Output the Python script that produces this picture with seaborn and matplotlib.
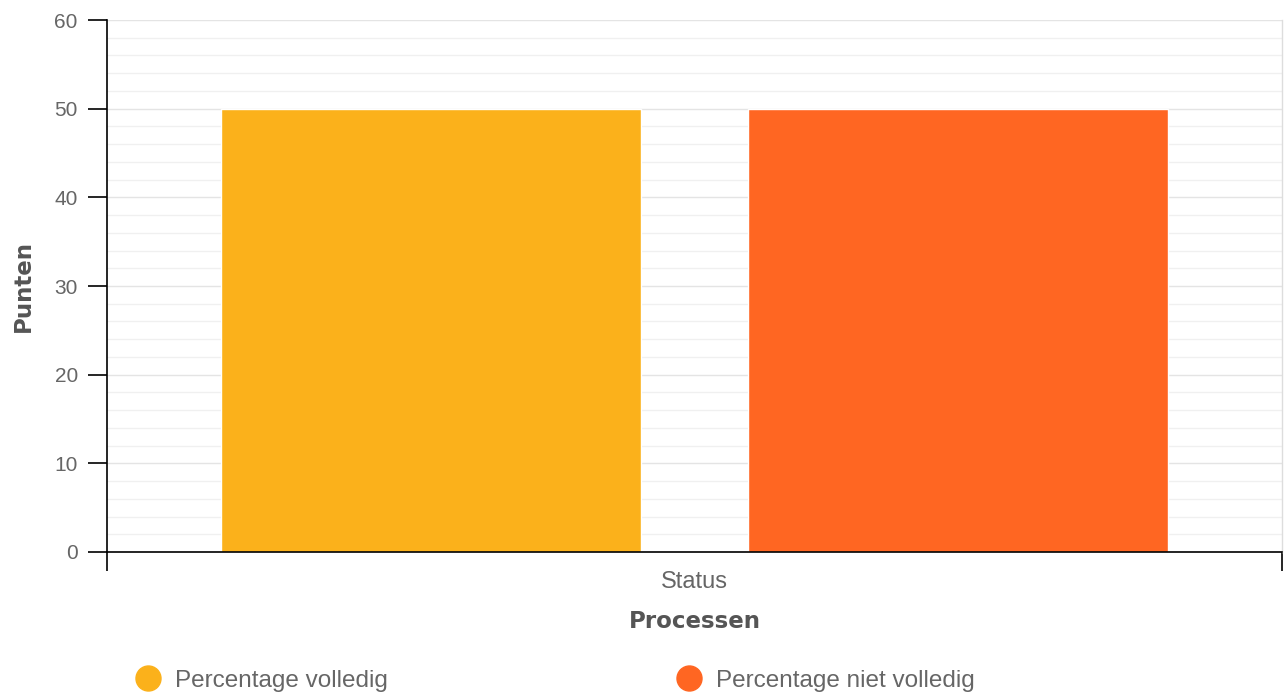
import numpy as np
import pandas as pd
import matplotlib
matplotlib.use("Agg")
import matplotlib.pyplot as plt
from matplotlib.lines import Line2D
from matplotlib.ticker import MultipleLocator
import seaborn as sns

categories = ["Status"]
series = ["Percentage volledig", "Percentage niet volledig"]
values = [50, 50]
colors = ["#FBB11B", "#FF6622"]

df = pd.DataFrame({
    "Processen": categories * len(series),
    "Serie": series,
    "Punten": values,
})

sns.set_style("white")
plt.rcParams["font.family"] = ["Liberation Sans", "DejaVu Sans"]

fig = plt.figure(figsize=(12.87, 6.98), dpi=100)
ax = fig.add_axes([0.0831, 0.2092, 0.9130, 0.7621])

sns.barplot(data=df, x="Processen", y="Punten", hue="Serie",
            palette=dict(zip(series, colors)), width=0.897, gap=0.203,
            saturation=1, ax=ax, legend=False)

ax.set_xlim(-0.5, 0.5)
ax.set_ylim(0, 60)
ax.yaxis.set_major_locator(MultipleLocator(10))
ax.yaxis.set_minor_locator(MultipleLocator(2))
ax.grid(which="major", axis="y", color="#e4e4e4", linewidth=1)
ax.grid(which="minor", axis="y", color="#f0f0f0", linewidth=1)
ax.set_axisbelow(True)

for s in ["left", "bottom"]:
    ax.spines[s].set_color("black")
    ax.spines[s].set_linewidth(1.2)
ax.spines["top"].set_visible(False)
ax.spines["right"].set_color("#dddddd")
ax.spines["right"].set_linewidth(1)

ax.tick_params(axis="y", which="major", length=14, width=1.2, color="black",
               labelsize=15, labelcolor="#666666", pad=7, left=True)
ax.tick_params(axis="y", which="minor", length=0)
ax.set_xticks([-0.5, 0.5], minor=True)
ax.tick_params(axis="x", which="minor", length=13.5, width=1.2, color="black",
               bottom=True)
ax.tick_params(axis="x", which="major", length=0, labelsize=17,
               labelcolor="#666666", pad=14)

ax.set_ylabel("Punten", fontsize=16.5, fontweight="bold", color="#555555",
              family="DejaVu Sans")
ax.yaxis.set_label_coords(-0.0613, 0.5)
ax.set_xlabel("Processen", fontsize=16.5, fontweight="bold", color="#555555",
              family="DejaVu Sans", labelpad=12)

handles = [Line2D([], [], marker="o", linestyle="", markersize=18,
                  markerfacecolor=c, markeredgecolor=c) for c in colors]
fig.legend(handles, series, loc="center left", bbox_to_anchor=(0.1037, 0.0244),
           ncol=2, frameon=False, fontsize=17.5, labelcolor="#666666",
           borderpad=0, borderaxespad=0, handlelength=1.2,
           handletextpad=0.5, columnspacing=11.8)

fig.savefig("out.png", dpi=100)
